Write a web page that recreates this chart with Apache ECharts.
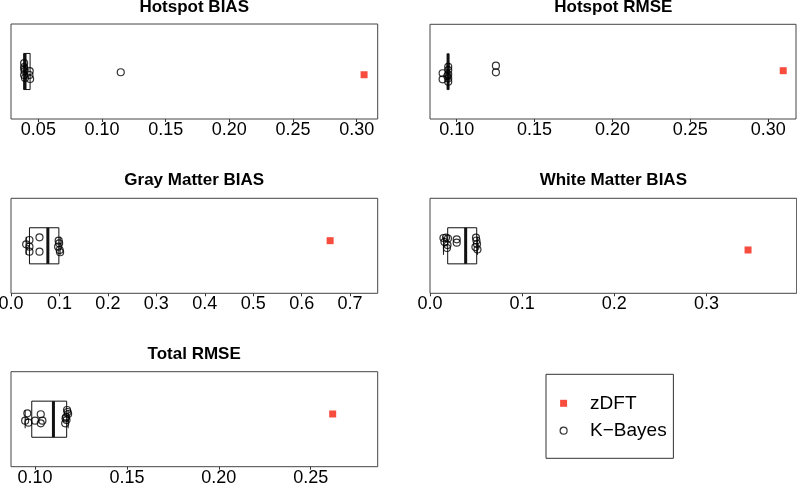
<!DOCTYPE html>
<html><head><meta charset="utf-8">
<script src="https://cdn.jsdelivr.net/npm/echarts@6/dist/echarts.min.js"></script>
<style>html,body{margin:0;padding:0;background:#fff}#c{width:797px;height:483px}</style>
</head><body><div id="c"></div>
<script>
// ---------- data ----------
const panelTitles = ['Hotspot BIAS','Hotspot RMSE','Gray Matter BIAS','White Matter BIAS','Total RMSE'];

// axis limits and tick labels
const xLimits = [[0.0285,0.3165],[0.0829,0.3178],[0,0.757],[0,0.398],[0.0869,0.2865]];
const ticksHB = [0.05,0.10,0.15,0.20,0.25,0.30];
const ticksHR = [0.10,0.15,0.20,0.25,0.30];
const ticksGM = [0.0,0.1,0.2,0.3,0.4,0.5,0.6,0.7];
const ticksWM = [0.0,0.1,0.2,0.3];
const ticksTR = [0.10,0.15,0.20,0.25];
const tickDigits = [2,2,1,1,2];

// K-Bayes values (x) and their vertical jitter (y, 0..1)
const hbKB  = [0.0388,0.0388,0.0392,0.0388,0.0395,0.0432,0.0435,0.0430,0.0390,0.1147];
const hbJit = [0.589,0.547,0.505,0.463,0.432,0.505,0.421,0.463,0.526,0.492];
const hrKB  = [0.0910,0.0910,0.0946,0.0946,0.0946,0.0946,0.0946,0.0940,0.1252,0.1252];
const hrJit = [0.483,0.419,0.552,0.517,0.472,0.430,0.394,0.454,0.563,0.493];
const gmKB  = [0.0313,0.0381,0.0381,0.0381,0.0588,0.0588,0.0984,0.0994,0.0973,0.1004,0.1014];
const gmJit = [0.516,0.561,0.491,0.438,0.589,0.438,0.554,0.526,0.491,0.456,0.432];
const wmKB  = [0.0146,0.0174,0.0195,0.0157,0.0190,0.0184,0.0290,0.0290,0.0499,0.0504,0.0510,0.0493,0.0515];
const wmJit = [0.582,0.587,0.577,0.540,0.508,0.477,0.568,0.533,0.587,0.556,0.519,0.487,0.461];
const trKB  = [0.0946,0.0958,0.0964,0.1000,0.1031,0.1031,0.1040,0.1174,0.1177,0.1180,0.1169,0.1171,0.1166,0.1164];
const trJit = [0.484,0.562,0.463,0.484,0.552,0.457,0.484,0.597,0.576,0.555,0.523,0.491,0.509,0.457];

// box statistics: [lower whisker, Q1, median, Q3, upper whisker]
const hbBox = [0.0385,0.0385,0.0395,0.0435,0.0435];
const hrBox = [0.0938,0.0942,0.0945,0.0948,0.0952];
const gmBox = [0.0313,0.0381,0.0761,0.0988,0.1014];
const wmBox = [0.0146,0.0192,0.0387,0.0507,0.0515];
const trBox = [0.0946,0.0982,0.1100,0.1172,0.1180];

// zDFT values and vertical position
const zdft    = [0.3058,0.3096,0.6588,0.3452,0.2620];
const zdftJit = [0.466,0.510,0.554,0.456,0.555];

// ---------- layout / style ----------
const FONT = '"Liberation Sans", Arimo, Helvetica, Arial, sans-serif';
const RED = '#f5200f';
const gridPos = [
  {left:11,  top:24,    width:366.7, height:95},
  {left:430, top:24.3,  width:366,   height:94.7},
  {left:11,  top:198.3, width:366.7, height:95},
  {left:430, top:198.3, width:366.7, height:95},
  {left:11,  top:371.7, width:366.7, height:95}
];
const titlePos = [[194.2,7.3],[613.3,7.3],[194.2,180.7],[613.3,180.7],[194.2,354.3]];
const BOX_HALF = 0.19;

const kbX = [hbKB,hrKB,gmKB,wmKB,trKB];
const kbY = [hbJit,hrJit,gmJit,wmJit,trJit];
const boxes = [hbBox,hrBox,gmBox,wmBox,trBox];
const ticks = [ticksHB,ticksHR,ticksGM,ticksWM,ticksTR];

function renderBox(params, api){
  const lo=api.value(0), q1=api.value(1), md=api.value(2), q3=api.value(3), hi=api.value(4);
  const c=0.5, t=c+BOX_HALF, b=c-BOX_HALF, s=BOX_HALF/2;
  const P=(x,y)=>api.coord([x,y]);
  const ln=(p1,p2,w,dash)=>({type:'line',shape:{x1:p1[0],y1:p1[1],x2:p2[0],y2:p2[1]},
      style:{stroke:'#111',lineWidth:w,lineDash:dash||null,fill:null}});
  const a=P(q1,t), z=P(q3,b);
  const ch=[];
  if (lo<q1){ ch.push(ln(P(lo,c),P(q1,c),1,[4,3])); ch.push(ln(P(lo,c-s),P(lo,c+s),1)); }
  if (hi>q3){ ch.push(ln(P(q3,c),P(hi,c),1,[4,3])); ch.push(ln(P(hi,c-s),P(hi,c+s),1)); }
  ch.push({type:'rect',shape:{x:a[0],y:a[1],width:z[0]-a[0],height:z[1]-a[1]},
      style:{fill:'none',stroke:'#111',lineWidth:1}});
  ch.push(ln(P(md,t),P(md,b),3));
  return {type:'group',children:ch};
}

const grid=[], xAxis=[], yAxis=[], series=[], graphic=[];
for (let i=0;i<5;i++){
  grid.push(Object.assign({show:true,borderColor:'#444',borderWidth:1,backgroundColor:'transparent',
    containLabel:false,outerBoundsMode:'none'}, gridPos[i]));
  const d = tickDigits[i];
  xAxis.push({type:'value',gridIndex:i,min:xLimits[i][0],max:xLimits[i][1],
    axisLine:{show:false},splitLine:{show:false},
    axisTick:{show:true,length:3,customValues:ticks[i],lineStyle:{color:'#333',width:1}},
    axisLabel:{customValues:ticks[i],formatter:v=>Number(v).toFixed(d),fontSize:18,fontFamily:FONT,color:'#000',margin:2,hideOverlap:false}});
  yAxis.push({type:'value',gridIndex:i,min:0,max:1,show:false});
  series.push({type:'custom',name:'box'+i,xAxisIndex:i,yAxisIndex:i,renderItem:renderBox,
    data:[boxes[i]],silent:true,z:1});
  series.push({type:'scatter',name:'K\u2212Bayes',xAxisIndex:i,yAxisIndex:i,symbol:'circle',symbolSize:7,
    itemStyle:{color:'rgba(255,255,255,0)',borderColor:'#000',borderWidth:1.2},
    data:kbX[i].map((v,j)=>[v,kbY[i][j]]),z:3});
  series.push({type:'scatter',name:'zDFT',xAxisIndex:i,yAxisIndex:i,symbol:'rect',symbolSize:7,
    itemStyle:{color:RED},data:[[zdft[i],zdftJit[i]]],z:4});
  graphic.push({type:'text',x:titlePos[i][0],y:titlePos[i][1],
    style:{text:panelTitles[i],fontSize:17,fontWeight:'bold',fontFamily:FONT,fill:'#000',align:'center',verticalAlign:'middle'}});
}

const chart = echarts.init(document.getElementById('c'), null, {renderer:'canvas'});
chart.setOption({
  animation:false,
  backgroundColor:'#fff',
  grid, xAxis, yAxis, series, graphic,
  legend:{
    orient:'vertical', left:546, top:374.3,
    data:[{name:'zDFT',icon:'rect',itemStyle:{color:RED}},
          {name:'K\u2212Bayes',icon:'circle',itemStyle:{color:'#fff',borderColor:'#000',borderWidth:1.2}}],
    itemWidth:7,itemHeight:7,itemGap:8.4,
    padding:[19.5,6.7,18.1,13.5],
    borderColor:'#333',borderWidth:1,
    selectedMode:false,
    textStyle:{fontSize:19,lineHeight:19,fontFamily:FONT,color:'#000',padding:[0,0,0,18]}
  }
});
</script></body></html>
